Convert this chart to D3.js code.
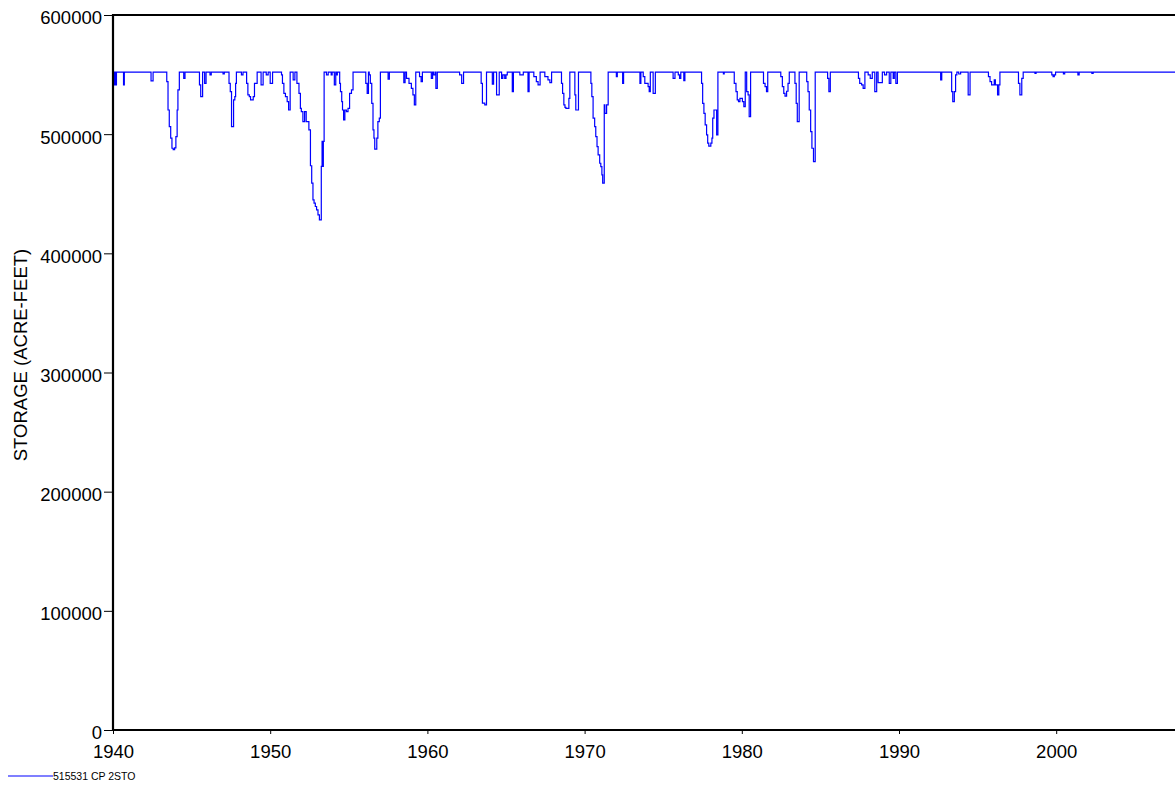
<!DOCTYPE html>
<html>
<head>
<meta charset="utf-8">
<script src="https://cdn.jsdelivr.net/npm/d3@7"></script>
<style>
  html, body { margin: 0; padding: 0; background: #fff; }
  svg { display: block; font-family: Arial, "Liberation Sans", sans-serif; }
</style>
</head>
<body>
<svg id="chart" width="1175" height="786"></svg>
<script>
// Reservoir storage, month-end step changes: [decimal year, acre-feet]
const storageSteps = [
  [1940.00, 552000], [1940.08, 541300], [1940.13, 552000], [1940.17, 541300], [1940.22, 552000],
  [1940.67, 541300], [1940.72, 552000],
  [1942.42, 544700], [1942.55, 552000],
  [1943.42, 544100], [1943.50, 520300], [1943.58, 506400], [1943.67, 496600], [1943.75, 488200],
  [1943.83, 487000], [1943.92, 488500], [1944.00, 498000], [1944.08, 520300], [1944.13, 537100],
  [1944.22, 552000], [1944.50, 546900], [1944.58, 552000],
  [1945.50, 541300], [1945.58, 531500], [1945.70, 552000], [1945.83, 542700], [1945.92, 552000],
  [1946.17, 549700], [1946.25, 552000],
  [1947.00, 550500], [1947.08, 552000],
  [1947.38, 542700], [1947.46, 535700], [1947.54, 506400], [1947.67, 528700], [1947.75, 531500],
  [1947.80, 542700], [1947.85, 552000],
  [1948.17, 549700], [1948.27, 552000],
  [1948.50, 542700], [1948.58, 532900], [1948.67, 531500], [1948.75, 528700], [1948.92, 531500],
  [1949.00, 542700], [1949.17, 552000],
  [1949.42, 541300], [1949.55, 552000], [1949.75, 549700], [1949.87, 552000],
  [1950.00, 542700], [1950.15, 552000],
  [1950.72, 549700], [1950.78, 542700], [1950.87, 534300], [1950.97, 531500], [1951.08, 527300],
  [1951.17, 520300], [1951.27, 552000],
  [1951.46, 545500], [1951.57, 552000],
  [1951.70, 542700], [1951.83, 534300], [1951.92, 521700], [1951.98, 518900], [1952.08, 510600],
  [1952.19, 518900], [1952.29, 510600], [1952.46, 503600], [1952.56, 473500], [1952.64, 458900],
  [1952.72, 444900], [1952.79, 442100], [1952.87, 439300], [1952.95, 436500], [1953.04, 432300],
  [1953.13, 428100], [1953.25, 473000], [1953.30, 494000], [1953.34, 473000], [1953.38, 494000],
  [1953.43, 552000],
  [1953.58, 549700], [1953.69, 552000], [1953.88, 549700], [1953.94, 552000],
  [1954.08, 541300], [1954.17, 552000], [1954.21, 549700], [1954.27, 552000],
  [1954.42, 542700], [1954.47, 535700], [1954.55, 527300], [1954.60, 520300], [1954.67, 512000],
  [1954.75, 520300], [1954.85, 519000], [1954.95, 521700], [1955.05, 534300], [1955.17, 537100],
  [1955.27, 552000],
  [1956.08, 542700], [1956.17, 534300], [1956.25, 552000], [1956.30, 549700], [1956.37, 542700],
  [1956.46, 525900], [1956.54, 503600], [1956.60, 496600], [1956.65, 487500], [1956.78, 496600],
  [1956.85, 510600], [1956.94, 513400], [1957.01, 552000],
  [1957.50, 546100], [1957.58, 552000],
  [1958.50, 543300], [1958.58, 552000],
  [1958.67, 546900], [1958.83, 542700], [1958.98, 538500], [1959.08, 532900], [1959.17, 524500],
  [1959.26, 552000],
  [1959.50, 548300], [1959.60, 544100], [1959.68, 552000],
  [1960.25, 546900], [1960.33, 552000], [1960.40, 549700], [1960.50, 552000], [1960.54, 538500],
  [1960.63, 552000],
  [1962.05, 549700], [1962.18, 542700], [1962.30, 552000],
  [1963.42, 542700], [1963.50, 526000], [1963.65, 524500], [1963.76, 552000],
  [1964.13, 542000], [1964.21, 552000], [1964.40, 532900], [1964.57, 552000],
  [1964.72, 546900], [1964.80, 549700], [1964.92, 546900], [1965.00, 549700], [1965.08, 552000],
  [1965.40, 535700], [1965.47, 552000],
  [1965.88, 549700], [1966.10, 552000],
  [1966.40, 535700], [1966.47, 552000],
  [1966.77, 548300], [1966.93, 544100], [1967.04, 541300], [1967.17, 552000],
  [1967.47, 548300], [1967.67, 545500], [1967.79, 543300], [1967.90, 552000],
  [1968.53, 542700], [1968.60, 534300], [1968.68, 524500], [1968.75, 522500], [1968.81, 521700],
  [1969.00, 530100], [1969.06, 552000],
  [1969.38, 532900], [1969.44, 520300], [1969.61, 552000],
  [1970.40, 542700], [1970.46, 531500], [1970.54, 513400], [1970.64, 506400], [1970.71, 498000],
  [1970.79, 489600], [1970.86, 482600], [1970.96, 475600], [1971.03, 472800], [1971.10, 465800],
  [1971.15, 458900], [1971.25, 524500], [1971.29, 517500], [1971.40, 524500], [1971.50, 552000],
  [1972.02, 548300], [1972.08, 552000],
  [1972.42, 542700], [1972.48, 552000],
  [1973.52, 542700], [1973.58, 552000],
  [1973.73, 548300], [1973.83, 542700], [1974.04, 539900], [1974.11, 535700], [1974.18, 552000],
  [1974.36, 534300], [1974.50, 552000],
  [1975.63, 546900], [1975.75, 552000], [1975.96, 549700], [1976.04, 546900], [1976.12, 552000],
  [1976.31, 544900], [1976.38, 552000],
  [1977.44, 542700], [1977.51, 525900], [1977.59, 517500], [1977.67, 507800], [1977.76, 499400],
  [1977.83, 492400], [1977.90, 490000], [1978.03, 492400], [1978.10, 496600], [1978.15, 513400],
  [1978.23, 520300], [1978.40, 499400], [1978.48, 552000],
  [1978.83, 550500], [1978.88, 552000],
  [1979.52, 542700], [1979.63, 535700], [1979.71, 528700], [1979.79, 527300], [1979.88, 530100],
  [1980.04, 527300], [1980.13, 523100], [1980.22, 552000],
  [1980.31, 535700], [1980.40, 533000], [1980.47, 514800], [1980.56, 552000],
  [1981.38, 542700], [1981.48, 539900], [1981.57, 535700], [1981.65, 552000],
  [1982.48, 548300], [1982.58, 539900], [1982.67, 534300], [1982.75, 532000], [1982.85, 536000],
  [1982.94, 542700], [1983.02, 552000],
  [1983.38, 542700], [1983.46, 525900], [1983.53, 510600], [1983.65, 552000],
  [1984.13, 544100], [1984.21, 535700], [1984.29, 520300], [1984.38, 502200], [1984.46, 488200],
  [1984.56, 477000], [1984.67, 552000],
  [1985.46, 546900], [1985.54, 535700], [1985.63, 552000],
  [1987.42, 546900], [1987.50, 542700], [1987.62, 541300], [1987.72, 538500], [1987.83, 552000],
  [1988.04, 549700], [1988.17, 546900], [1988.30, 552000], [1988.46, 535700], [1988.58, 552000],
  [1988.67, 543300], [1988.94, 552000],
  [1989.08, 549700], [1989.21, 552000], [1989.38, 542700], [1989.48, 552000],
  [1989.63, 546900], [1989.70, 552000], [1989.80, 542700], [1989.90, 552000],
  [1992.65, 545500], [1992.72, 552000],
  [1993.35, 535700], [1993.42, 527300], [1993.52, 535700], [1993.60, 549700], [1993.68, 552000],
  [1993.80, 550500], [1993.92, 552000],
  [1994.40, 532900], [1994.52, 552000],
  [1995.69, 548300], [1995.79, 544100], [1995.89, 541300], [1996.06, 545500], [1996.13, 541300],
  [1996.27, 532900], [1996.35, 541300], [1996.42, 552000],
  [1997.60, 542700], [1997.69, 532900], [1997.81, 546900], [1997.90, 552000],
  [1998.65, 551000], [1998.72, 552000],
  [1999.72, 549700], [1999.80, 548300], [1999.88, 549700], [1999.96, 552000],
  [2000.46, 550500], [2000.54, 552000],
  [2001.38, 549700], [2001.46, 552000],
  [2002.27, 551000], [2002.35, 552000],
  [2008.00, 552000]
];

const yearTicks = [1940, 1950, 1960, 1970, 1980, 1990, 2000];
const storageTicks = [0, 100000, 200000, 300000, 400000, 500000, 600000];
const seriesName = "515531 CP 2STO";
const axisTitle = "STORAGE (ACRE-FEET)";

const svg = d3.select("#chart");
const plotLeft = 113, plotTop = 15, plotBottom = 730;

const x = d3.scaleLinear().domain([1940, 2008]).range([plotLeft, plotLeft + 68 * 15.72]);
const y = d3.scaleLinear().domain([0, 600000]).range([plotBottom, plotTop]);

// Series line (step after each month-end change)
const line = d3.line()
  .x(d => x(d[0]))
  .y(d => y(d[1]))
  .curve(d3.curveStepAfter);

svg.append("path")
  .datum(storageSteps)
  .attr("fill", "none")
  .attr("stroke", "#0000ff")
  .attr("stroke-width", 1.2)
  .attr("d", line);

// Y axis
const yAxis = svg.append("g")
  .attr("transform", `translate(${plotLeft},0)`)
  .call(d3.axisLeft(y).tickValues(storageTicks).tickFormat(d3.format("d")).tickSize(9).tickPadding(2));
yAxis.select(".domain").remove();
yAxis.selectAll("line").attr("stroke", "#000").attr("stroke-width", 1);
yAxis.selectAll("text")
  .attr("fill", "#000")
  .attr("dy", "0.48em")
  .style("font-size", "18.5px")
  .style("font-family", "Arial, 'Liberation Sans', sans-serif");

// X axis
const xAxis = svg.append("g")
  .attr("transform", `translate(0,${plotBottom})`)
  .call(d3.axisBottom(x).tickValues(yearTicks).tickFormat(d3.format("d")).tickSize(4).tickPadding(11));
xAxis.select(".domain").remove();
xAxis.selectAll("line").attr("stroke", "#000").attr("stroke-width", 1);
xAxis.selectAll("text")
  .attr("fill", "#000")
  .style("font-size", "18.5px")
  .style("font-family", "Arial, 'Liberation Sans', sans-serif");

// Plot frame
const frame = svg.append("g").attr("stroke", "#000").attr("stroke-width", 2.2).attr("fill", "none");
frame.append("line").attr("x1", plotLeft).attr("x2", plotLeft).attr("y1", plotTop - 1).attr("y2", plotBottom + 1);
frame.append("line").attr("x1", plotLeft - 1).attr("x2", x(2008)).attr("y1", plotTop).attr("y2", plotTop);
frame.append("line").attr("x1", plotLeft - 1).attr("x2", x(2008)).attr("y1", plotBottom).attr("y2", plotBottom);

// Y axis title
svg.append("text")
  .attr("transform", `translate(27,355) rotate(-90)`)
  .attr("text-anchor", "middle")
  .attr("fill", "#000")
  .style("font-size", "18.5px")
  .text(axisTitle);

// Legend
svg.append("line")
  .attr("x1", 8).attr("x2", 53).attr("y1", 776).attr("y2", 776)
  .attr("stroke", "#0000ff").attr("stroke-width", 1.2);
svg.append("text")
  .attr("x", 53).attr("y", 780)
  .attr("fill", "#000")
  .style("font-size", "10.5px")
  .text(seriesName);
</script>
</body>
</html>
